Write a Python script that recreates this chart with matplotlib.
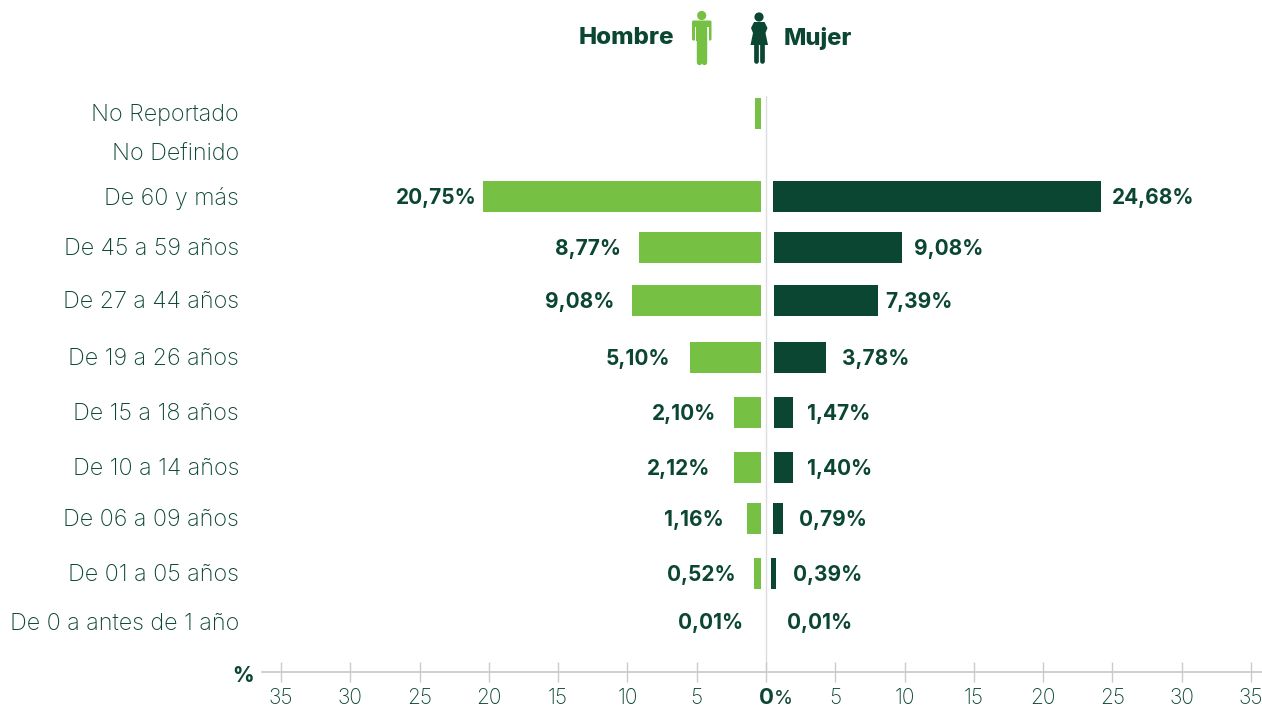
import matplotlib
matplotlib.use('Agg')
import matplotlib.pyplot as plt
from matplotlib.patches import Circle, Polygon, Rectangle, FancyBboxPatch

# Datos
categorias = ['No Reportado', 'No Definido', 'De 60 y más', 'De 45 a 59 años', 'De 27 a 44 años',
              'De 19 a 26 años', 'De 15 a 18 años', 'De 10 a 14 años', 'De 06 a 09 años',
              'De 01 a 05 años', 'De 0 a antes de 1 año']
largo_hombre = [0.43, 0, 20.06, 8.80, 9.31, 5.12, 1.95, 1.95, 1.01, 0.51, 0]
largo_mujer = [0, 0, 23.67, 9.25, 7.50, 3.75, 1.37, 1.37, 0.72, 0.36, 0]
texto_hombre = ['', '', '20,75%', '8,77%', '9,08%', '5,10%', '2,10%', '2,12%', '1,16%', '0,52%', '0,01%']
texto_mujer = ['', '', '24,68%', '9,08%', '7,39%', '3,78%', '1,47%', '1,40%', '0,79%', '0,39%', '0,01%']
ticks = [-35, -30, -25, -20, -15, -10, -5, 0, 5, 10, 15, 20, 25, 30, 35]

# Colocación (en píxeles de la imagen)
filas_y = [113.5, 152, 196.5, 247.5, 300.5, 357.5, 412.5, 467.5, 518.5, 573.5, 622]
base_hombre = -0.36
base_mujer = [0.5, 0.5, 0.5, 0.58, 0.58, 0.58, 0.58, 0.58, 0.5, 0.36, 0.5]
gap_hombre = [0, 0, 6, 18, 18, 20, 18, 24, 23, 18, 18]
gap_mujer = [0, 0, 11, 12, 7, 16, 14, 14, 16, 17, 14]

VERDE = '#76C044'
OSCURO = '#0B4633'
GRIS = '#CBCBCB'
ESCALA = 13.857  # px por unidad

fig = plt.figure(figsize=(12.62, 7.06), dpi=100)
W, H = 1262, 706
ax = fig.add_axes([262 / W, (H - 672) / H, 1000 / W, (672 - 90) / H])
ax.set_xlim((262 - 766) / ESCALA, (1262 - 766) / ESCALA)
ax.set_ylim(672, 90)
ax.patch.set_alpha(0)

ax.axvline(0, ymax=0.99, color='#DDDDDD', lw=1, zorder=1)
ax.barh(filas_y, [-v for v in largo_hombre], left=base_hombre, height=31, color=VERDE, zorder=2)
ax.barh(filas_y, largo_mujer, left=base_mujer, height=31, color=OSCURO, zorder=2)

fuente_valor = dict(family='Inter', fontweight='bold', fontsize=15, color=OSCURO, va='center')
for i, y in enumerate(filas_y):
    if texto_hombre[i]:
        ax.annotate(texto_hombre[i], (base_hombre - largo_hombre[i], y + 1), xytext=(-gap_hombre[i] * 0.72, 0),
                    textcoords='offset points', ha='right', **fuente_valor)
    if texto_mujer[i]:
        ax.annotate(texto_mujer[i], (base_mujer[i] + largo_mujer[i], y + 1), xytext=(gap_mujer[i] * 0.72, 0),
                    textcoords='offset points', ha='left', **fuente_valor)

# Ejes
for s in ['top', 'left', 'right']:
    ax.spines[s].set_visible(False)
ax.spines['bottom'].set_color(GRIS)
ax.spines['bottom'].set_linewidth(1.3)
ax.set_yticks([y - 1 for y in filas_y], categorias, family='Inter', fontweight='light', fontsize=16.8, color=OSCURO)
ax.tick_params(axis='y', length=0, pad=16.5)
ax.set_xticks(ticks, [str(abs(t)) if t != 0 else '' for t in ticks], family='Inter', fontweight='light',
              fontsize=15, color=OSCURO)
ax.tick_params(axis='x', direction='inout', length=15, width=1, color=GRIS, pad=4)
ax.get_xticklines()[2 * ticks.index(0)].set_color('#333333')

# Capa en píxeles para textos sueltos e iconos
capa = fig.add_axes([0, 0, 1, 1])
capa.set_xlim(0, W)
capa.set_ylim(H, 0)
capa.axis('off')
capa.patch.set_alpha(0)

capa.text(243, 675.5, '%', family='Inter', fontweight='heavy', fontsize=15, color=OSCURO, ha='center', va='center')
capa.text(767, 698.5, '0', family='Inter', fontweight='bold', fontsize=16, color=OSCURO, ha='center', va='center')
capa.text(774, 698.5, '%', family='Inter', fontweight='normal', fontsize=14, color=OSCURO, ha='left', va='center')
capa.text(674, 44.5, 'Hombre', family='Inter', fontweight='heavy', fontsize=17.4, color=OSCURO, ha='right', va='baseline')
capa.text(784, 44.5, 'Mujer', family='Inter', fontweight='heavy', fontsize=17, color=OSCURO, ha='left', va='baseline')

# Icono hombre
capa.add_patch(Circle((701.7, 15.5), 4.6, color=VERDE, lw=0))
capa.add_patch(FancyBboxPatch((693.5, 22), 16.5, 17, boxstyle='round,pad=1.5', color=VERDE, lw=0))
capa.add_patch(Rectangle((695.1, 27), 1.2, 14, color='white', lw=0))
capa.add_patch(Rectangle((707.3, 27), 1.2, 14, color='white', lw=0))
capa.plot([699, 699], [30, 61.5], color=VERDE, lw=3.9, solid_capstyle='round')
capa.plot([704.4, 704.4], [30, 61.5], color=VERDE, lw=3.9, solid_capstyle='round')
capa.add_patch(Rectangle((696.3, 25), 10.8, 16, color=VERDE, lw=0))

# Icono mujer
capa.add_patch(Circle((759, 17), 4.6, color=OSCURO, lw=0))
capa.add_patch(Polygon([(754, 22), (764.5, 22), (767.5, 28), (765.5, 33), (768, 45), (750.5, 45),
                        (753, 33), (751, 28)], closed=True, color=OSCURO, lw=0))
capa.plot([756.4, 756.4], [44, 60.5], color=OSCURO, lw=3.4, solid_capstyle='round')
capa.plot([762, 762], [44, 60.5], color=OSCURO, lw=3.4, solid_capstyle='round')

fig.savefig('out.png', dpi=100)
